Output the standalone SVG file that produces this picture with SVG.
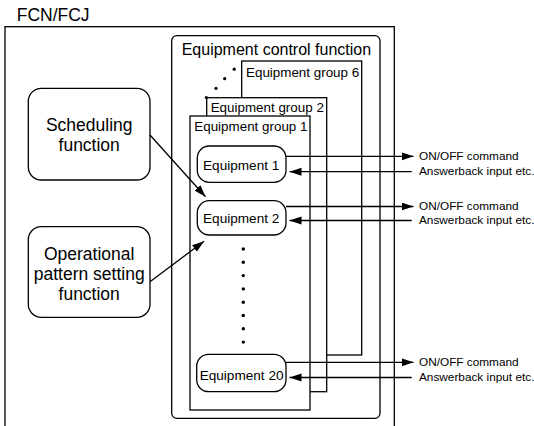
<svg xmlns="http://www.w3.org/2000/svg" width="534" height="426" viewBox="0 0 534 426">
<defs>
<marker id="ah" markerUnits="userSpaceOnUse" markerWidth="13" markerHeight="9" refX="12" refY="4" orient="auto">
<path d="M0,0 L12,4 L0,8 z" fill="#000"/>
</marker>
<style>
text{font-family:"Liberation Sans",Arial,sans-serif;fill:#000}
.box{fill:#fff;stroke:#000;stroke-width:1.3}
.frame{fill:none;stroke:#000;stroke-width:1.3}
.c{stroke:#000;stroke-width:1.3;fill:none;marker-end:url(#ah)}
.big{font-size:17.5px}
.mid{font-size:16px}
.grp{font-size:13.4px}
.eq{font-size:13.6px;text-anchor:middle}
.lbl{font-size:11.8px}
.ctr{text-anchor:middle}
</style>
</defs>
<rect width="534" height="426" fill="#fff"/>
<g id="fcn">
<text class="big" x="16.7" y="20.7">FCN/FCJ</text>
<rect class="frame" x="5" y="26.7" width="389.3" height="420"/>
</g>
<g id="control">
<rect class="box" x="171.7" y="35.7" width="208.3" height="382.6" rx="5"/>
<text class="mid" x="181.7" y="54.8">Equipment control function</text>
</g>
<g id="group6">
<rect class="box" x="241.7" y="61" width="120" height="294"/>
<text class="grp" x="246" y="77">Equipment group 6</text>
</g>
<g id="group2">
<rect class="box" x="206.7" y="97.7" width="120" height="294"/>
<text class="grp" x="210.7" y="112.3">Equipment group 2</text>
</g>
<g id="group1">
<rect class="box" x="190" y="116" width="120" height="294"/>
<text class="grp" x="194.3" y="131.3">Equipment group 1</text>
</g>
<g id="dots">
<circle cx="206.3" cy="97.5" r="1.6"/>
<circle cx="216" cy="88.3" r="1.6"/>
<circle cx="224.7" cy="78.7" r="1.6"/>
<circle cx="234.2" cy="69.2" r="1.6"/>
<circle cx="243.3" cy="249" r="1.7"/>
<circle cx="243.3" cy="262.3" r="1.7"/>
<circle cx="243.3" cy="275.6" r="1.7"/>
<circle cx="243.3" cy="288.9" r="1.7"/>
<circle cx="243.3" cy="302.2" r="1.7"/>
<circle cx="243.3" cy="315.5" r="1.7"/>
<circle cx="243.3" cy="328.8" r="1.7"/>
<circle cx="243.3" cy="342.1" r="1.7"/>
</g>
<g id="scheduling">
<rect class="box" x="28.3" y="88.3" width="121.7" height="91.7" rx="13"/>
<text class="big ctr" x="89.2" y="130.7">Scheduling</text>
<text class="big ctr" x="89.2" y="151.2">function</text>
</g>
<g id="operational">
<rect class="box" x="28.3" y="226.7" width="121.7" height="90.6" rx="13"/>
<text class="big ctr" x="89.2" y="259.8">Operational</text>
<text class="big ctr" x="89.2" y="280.3">pattern setting</text>
<text class="big ctr" x="89.2" y="300.3">function</text>
</g>
<g id="equipment1">
<rect class="box" x="197.3" y="146" width="88.7" height="36.3" rx="12"/>
<text class="eq" x="241.2" y="170">Equipment 1</text>
</g>
<g id="equipment2">
<rect class="box" x="197.3" y="200.7" width="88.7" height="34.3" rx="12"/>
<text class="eq" x="241.2" y="223">Equipment 2</text>
</g>
<g id="equipment20">
<rect class="box" x="196.7" y="354.3" width="89.3" height="37.4" rx="12"/>
<text class="eq" x="241.6" y="380">Equipment 20</text>
</g>
<g id="connectors">
<path class="c" d="M150,135 L205.5,196.8"/>
<path class="c" d="M150,281.7 L204,241.3"/>
<path class="c" d="M286,156.3 H413.5"/>
<path class="c" d="M411.7,171.7 H289.5"/>
<path class="c" d="M286,206.5 H413.5"/>
<path class="c" d="M411.7,220.5 H289.5"/>
<path class="c" d="M286,362.3 H413.5"/>
<path class="c" d="M411.7,377.5 H289.5"/>
</g>
<g id="labels">
<text class="lbl" x="419" y="160">ON/OFF command</text>
<text class="lbl" x="419" y="175">Answerback input etc.</text>
<text class="lbl" x="419" y="209.5">ON/OFF command</text>
<text class="lbl" x="419" y="223.8">Answerback input etc.</text>
<text class="lbl" x="419" y="365.8">ON/OFF command</text>
<text class="lbl" x="419" y="380.5">Answerback input etc.</text>
</g>
</svg>
